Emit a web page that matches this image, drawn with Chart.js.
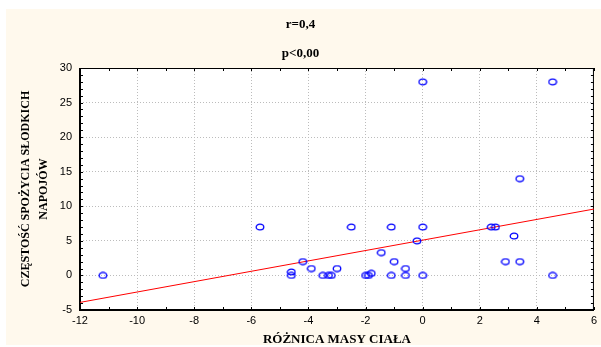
<!DOCTYPE html>
<html>
<head>
<meta charset="utf-8">
<script src="https://cdn.jsdelivr.net/npm/chart.js@4"></script>
<style>
html, body { margin: 0; padding: 0; background: #fff; }
</style>
</head>
<body>
<canvas id="graphique" width="601" height="347"></canvas>
<script>
// Données (x = różnica masy ciała, y = częstość spożycia)
const roznicaMasy = [-11.2, -5.7, -4.6, -4.6, -4.2, -3.9, -3.5, -3.3, -3.2, -3.0, -2.5, -2.0, -1.9, -1.8, -1.45, -1.1, -1.1, -1.0, -0.6, -0.6, -0.2, 0.0, 0.0, 0.0, 4.55, 2.4, 2.55, 3.2, 3.4, 2.9, 3.4, 4.55]
const czestosc    = [0, 7, 0.5, 0, 2, 1, 0, 0, 0, 1, 7, 0, 0, 0.3, 3.3, 7, 0, 2, 1, 0, 5, 7, 0, 28, 28, 7, 7, 5.7, 14, 2, 2, 0]

// droite de régression
const prostaX = [-12, 6]
const prostaY = [-3.9, 9.6]

// graduations
const ticksX = [-12, -10, -8, -6, -4, -2, 0, 2, 4, 6]
const ticksY = [-5, 0, 5, 10, 15, 20, 25, 30]

const tytul = ['r=0,4', 'p<0,00']
const tytulX = 'RÓŻNICA MASY CIAŁA'
const tytulY = ['CZĘSTOŚĆ SPOŻYCIA SŁODKICH', 'NAPOJÓW']

const punkty = roznicaMasy.map((v, i) => ({ x: v, y: czestosc[i] }))
const prosta = prostaX.map((v, i) => ({ x: v, y: prostaY[i] }))

// petit cercle un peu aplati comme sur l'original (image étirée)
const ovale = document.createElement('canvas')
ovale.width = 10
ovale.height = 8
const octx = ovale.getContext('2d')
octx.strokeStyle = '#0000ff'
octx.lineWidth = 1.3
octx.beginPath()
octx.ellipse(5, 4, 3.8, 2.9, 0, 0, Math.PI * 2)
octx.stroke()

// fond crème + zone blanche du graphique
const fond = {
    id: 'fond',
    beforeDraw(chart) {
        const { ctx, chartArea: a } = chart
        ctx.save()
        ctx.fillStyle = '#ffffff'
        ctx.fillRect(0, 0, chart.width, chart.height)
        ctx.fillStyle = '#fff9ed'
        ctx.fillRect(6, 9, 595, 336)
        ctx.fillStyle = '#ffffff'
        ctx.fillRect(a.left, a.top, a.right - a.left, a.bottom - a.top)
        ctx.restore()
    }
}

// cadre noir + petites graduations
const cadre = {
    id: 'cadre',
    beforeDatasetsDraw(chart) {
        const { ctx, chartArea: a, scales } = chart
        const x = scales.x, y = scales.y
        ctx.save()
        ctx.strokeStyle = '#000'
        ctx.lineWidth = 1
        ctx.beginPath()
        for (let v = x.min; v <= x.max; v++) {
            const px = Math.round(x.getPixelForValue(v)) + 0.5
            ctx.moveTo(px, a.bottom); ctx.lineTo(px, a.bottom - 3)
            ctx.moveTo(px, a.top); ctx.lineTo(px, a.top + 3)
        }
        for (let v = y.min; v <= y.max; v++) {
            const py = Math.round(y.getPixelForValue(v)) + 0.5
            ctx.moveTo(a.left, py); ctx.lineTo(a.left + 3, py)
            ctx.moveTo(a.right, py); ctx.lineTo(a.right - 3, py)
        }
        ctx.stroke()
        // haut et droite
        ctx.beginPath()
        ctx.moveTo(a.left, a.top + 0.5); ctx.lineTo(a.right, a.top + 0.5)
        ctx.moveTo(a.right - 0.5, a.top); ctx.lineTo(a.right - 0.5, a.bottom)
        ctx.stroke()
        // gauche et bas plus épais
        ctx.lineWidth = 2
        ctx.beginPath()
        ctx.moveTo(a.left, a.top); ctx.lineTo(a.left, a.bottom)
        ctx.lineTo(a.right, a.bottom)
        ctx.stroke()
        ctx.restore()
    }
}

const policeTicks = { family: "'Liberation Sans', Arial, sans-serif", size: 11 }
const policeTitre = { family: "'Liberation Serif', 'Times New Roman', serif", size: 13, weight: 'bold' }

const config = {
    data: {
        datasets: [{
            type: 'scatter',
            data: punkty,
            pointStyle: ovale,
            pointRadius: 4,
            pointHoverRadius: 4
        }, {
            type: 'line',
            data: prosta,
            borderColor: '#ff0000',
            borderWidth: 1,
            pointRadius: 0,
            fill: false
        }]
    },
    options: {
        responsive: false,
        animation: false,
        events: [],
        layout: { padding: { left: 6, top: 9, right: 6, bottom: 0 } },
        plugins: {
            legend: { display: false },
            tooltip: { enabled: false },
            title: {
                display: true,
                text: tytul,
                color: '#000',
                font: { ...policeTitre, lineHeight: 29 / 13 },
                padding: { top: 1, bottom: 0 }
            }
        },
        scales: {
            x: {
                type: 'linear',
                min: -12,
                max: 6,
                afterBuildTicks: s => { s.ticks = ticksX.map(v => ({ value: v })) },
                afterFit: s => { s.height = 37 },
                grid: { color: '#bcbcbc', lineWidth: 1, drawTicks: false },
                border: { display: false, dash: [1, 2] },
                ticks: { color: '#000', font: policeTicks, padding: 4, maxRotation: 0 },
                title: { display: true, text: tytulX, color: '#000', font: policeTitre, padding: { top: 0, bottom: 0 } }
            },
            y: {
                type: 'linear',
                min: -5,
                max: 30,
                afterBuildTicks: s => { s.ticks = ticksY.map(v => ({ value: v })) },
                afterFit: s => { s.width = 74 },
                grid: { color: '#bcbcbc', lineWidth: 1, drawTicks: false },
                border: { display: false, dash: [1, 2] },
                ticks: { color: '#000', font: policeTicks, padding: 8 },
                title: { display: true, text: tytulY, color: '#000', font: { ...policeTitre, size: 12, lineHeight: 18 / 12 }, padding: { top: 11, bottom: 0 } }
            }
        }
    },
    plugins: [fond, cadre]
}

const graphique = new Chart(document.querySelector('#graphique'), config)
</script>
</body>
</html>
